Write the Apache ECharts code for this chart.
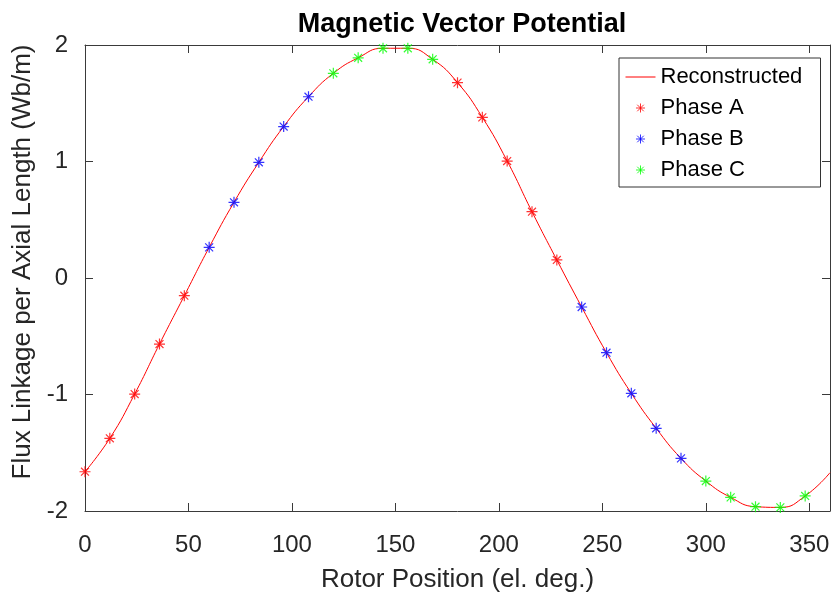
<!DOCTYPE html>
<html><head><meta charset="utf-8">
<script src="https://cdn.jsdelivr.net/npm/echarts@6/dist/echarts.min.js"></script>
<style>html,body{margin:0;padding:0;background:#fff}#c{width:833px;height:599px}</style>
</head><body><div id="c"></div>
<script>
const positions = [0,12,24,36,48,60,72,84,96,108,120,132,144,156,168,180,192,204,216,228,240,252,264,276,288,300,312,324,336,348];
const fluxValues = [-1.663,-1.376,-0.996,-0.567,-0.152,0.263,0.650,0.993,1.300,1.556,1.757,1.890,1.972,1.972,1.877,1.677,1.379,1.004,0.569,0.155,-0.249,-0.641,-0.990,-1.290,-1.548,-1.743,-1.883,-1.963,-1.969,-1.871];
const phaseA = [0,12,24,36,48,180,192,204,216,228];
const phaseB = [60,72,84,96,108,240,252,264,276,288];
const phaseC = [120,132,144,156,168,300,312,324,336,348];
const endPosition = 360, endValue = -1.671;
const xTicks = [0,50,100,150,200,250,300,350];
const yTicks = [-2,-1,0,1,2];

const lookup = {};
positions.forEach((p,i)=>lookup[p]=fluxValues[i]);
const recon = positions.map((p,i)=>[p,fluxValues[i]]).concat([[endPosition,endValue]]);
const pts = arr => arr.map(p=>[p,lookup[p]]);
const star = 'path://M0,-1L0,1M-1,0L1,0M-0.72,-0.72L0.72,0.72M-0.72,0.72L0.72,-0.72';
const starSmall = 'path://M-1.55,-1.55M1.55,1.55M0,-1L0,1M-1,0L1,0M-0.72,-0.72L0.72,0.72M-0.72,0.72L0.72,-0.72';
const lineIcon = 'path://M0,-7M30,7M0,0L30,0';
const font = 'Liberation Sans, Arial, Helvetica, sans-serif';
const axisCol = '#3a3a3a';

function phase(name,color,data){
  return {name, type:'scatter', data, symbol:star, symbolSize:11,
    itemStyle:{color:'none', borderColor:color, borderWidth:1.2}, z:3};
}
function axisStyle(){
  return {onZero:false, lineStyle:{color:axisCol, width:1}};
}
const tick = {inside:true, length:8, lineStyle:{color:axisCol}};

const chart = echarts.init(document.getElementById('c'));
chart.setOption({
  animation:false,
  title:{text:'Magnetic Vector Potential', left:457, textAlign:'center', top:6,
    textStyle:{fontFamily:font, fontWeight:'bold', fontSize:27, color:'#000'}},
  grid:{left:85, right:3, top:45, bottom:88},
  legend:{orient:'vertical', left:619, top:58, width:197, padding:[8,10,6,4],
    borderColor:'#333', borderWidth:1, backgroundColor:'#fff', itemGap:9,
    itemWidth:30, itemHeight:14,
    textStyle:{fontFamily:font, fontSize:22, lineHeight:22, color:'#000', width:150},
    data:[
      {name:'Reconstructed', icon:lineIcon, itemStyle:{color:'none', borderColor:'#ff0000', borderWidth:1}},
      {name:'Phase A', icon:starSmall, itemStyle:{color:'none', borderColor:'#ff0000', borderWidth:1}},
      {name:'Phase B', icon:starSmall, itemStyle:{color:'none', borderColor:'#0000ff', borderWidth:1}},
      {name:'Phase C', icon:starSmall, itemStyle:{color:'none', borderColor:'#00ff00', borderWidth:1}}]},
  xAxis:[{type:'value', min:0, max:360, interval:50,
     name:'Rotor Position (el. deg.)', nameLocation:'middle', nameGap:56,
     nameTextStyle:{fontFamily:font, fontSize:26, color:'#262626'},
     axisLine:axisStyle(), axisTick:tick,
     axisLabel:{fontFamily:font, fontSize:24, color:'#262626', margin:22, showMaxLabel:false},
     splitLine:{show:false}},
    {type:'value', min:0, max:360, interval:50, position:'top',
     axisLine:axisStyle(), axisTick:tick,
     axisLabel:{show:false}, splitLine:{show:false}}],
  yAxis:[{type:'value', min:-2, max:2, interval:1,
     name:'Flux Linkage per Axial Length (Wb/m)', nameLocation:'middle', nameGap:49,
     nameTextStyle:{fontFamily:font, fontSize:26, color:'#262626', padding:[0,0,0,32]},
     axisLine:axisStyle(), axisTick:tick,
     axisLabel:{fontFamily:font, fontSize:24, color:'#262626', margin:17},
     splitLine:{show:false}},
    {type:'value', min:-2, max:2, interval:1, position:'right',
     axisLine:axisStyle(), axisTick:tick,
     axisLabel:{show:false}, splitLine:{show:false}}],
  series:[
    {name:'Reconstructed', type:'line', data:recon, smooth:0.5, symbol:'none',
     lineStyle:{color:'#ff0000', width:1}, itemStyle:{color:'#ff0000'}, z:2},
    phase('Phase A','#ff0000',pts(phaseA)),
    phase('Phase B','#0000ff',pts(phaseB)),
    phase('Phase C','#00ff00',pts(phaseC))
  ]
});
</script></body></html>
